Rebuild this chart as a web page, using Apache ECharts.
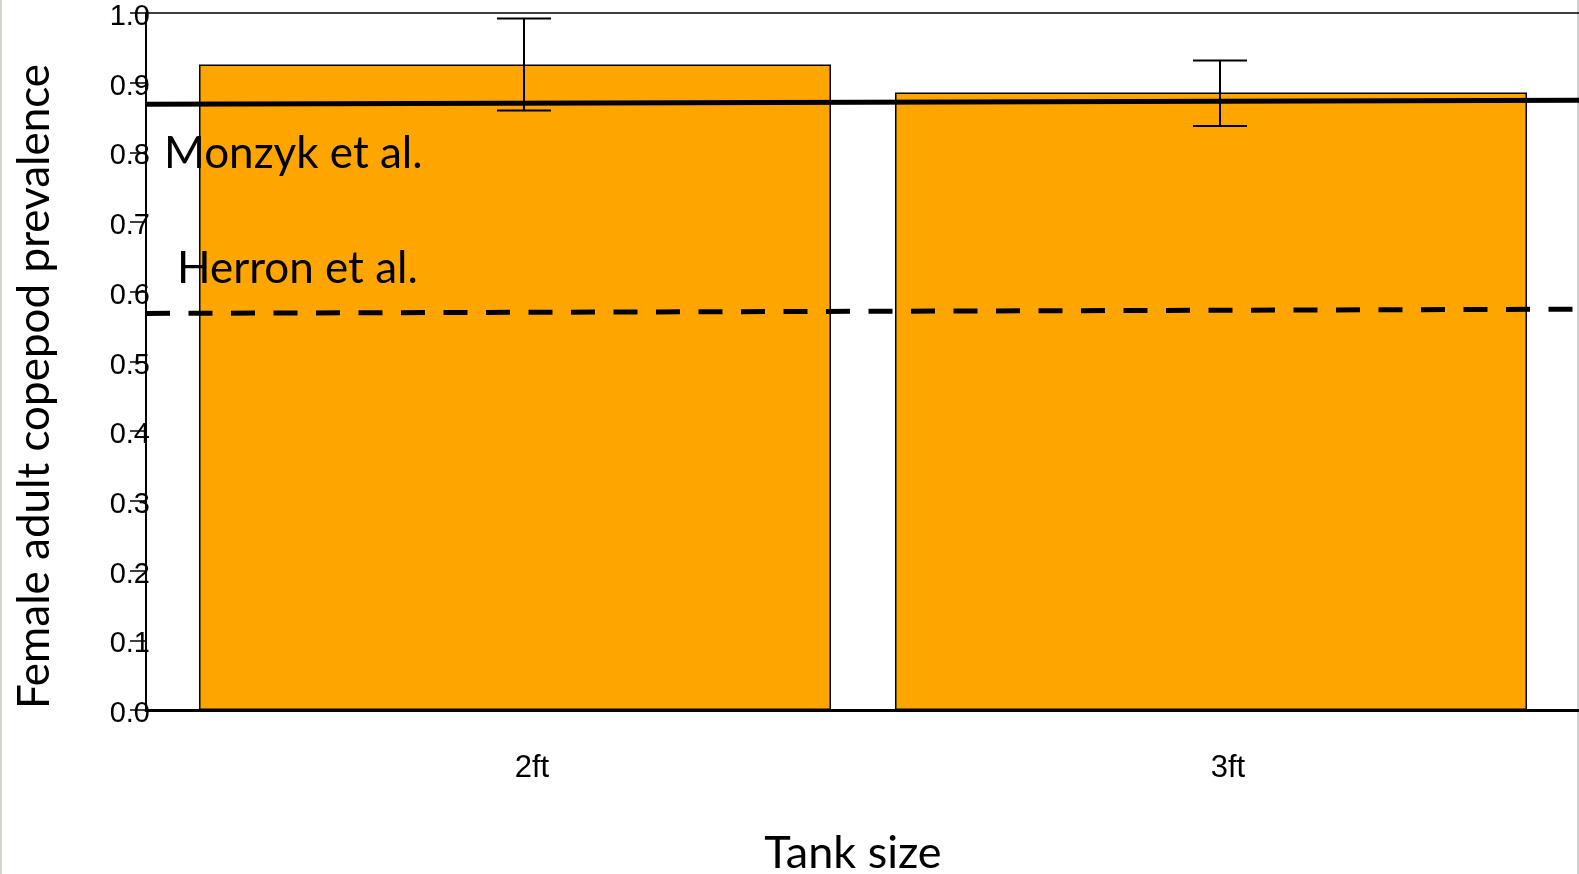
<!DOCTYPE html>
<html>
<head>
<meta charset="utf-8">
<script src="https://cdn.jsdelivr.net/npm/echarts@6/dist/echarts.min.js"></script>
<style>
html,body{margin:0;padding:0;background:#fff;}
#chart{width:1579px;height:874px;}
</style>
</head>
<body>
<div id="chart"></div>
<script>
// ---- data ----
const categories = ['2ft', '3ft'];
const prevalence = [0.926, 0.886];
const errLower = [0.860, 0.838];
const errUpper = [0.992, 0.932];
const refX = [0, 1];
const monzykLine = [0.869, 0.875];
const herronLine = [0.569, 0.575];

const chart = echarts.init(document.getElementById('chart'));

const errData = categories.map((c, i) => [i, errLower[i], errUpper[i]]);

const option = {
  animation: false,
  backgroundColor: '#fff',
  grid: [
    { left: 167, right: 20, top: 13, bottom: 164, outerBoundsMode: 'none', containLabel: false },
    { left: 146, right: 0, top: 13, bottom: 164, outerBoundsMode: 'none', containLabel: false }
  ],
  xAxis: [
    {
      type: 'category', gridIndex: 0, data: categories,
      axisLine: { show: false }, axisTick: { show: false },
      axisLabel: { margin: 43, fontFamily: 'Liberation Sans', fontSize: 31, color: '#000', padding: [0, 0, 0, 34] }
    },
    {
      type: 'value', gridIndex: 1, min: 0, max: 1, position: 'bottom',
      axisLine: { show: true, onZero: false, lineStyle: { color: '#000', width: 3 } },
      axisTick: { show: false }, axisLabel: { show: false }, splitLine: { show: false }
    },
    {
      type: 'value', gridIndex: 1, min: 0, max: 1, position: 'top',
      axisLine: { show: true, onZero: false, lineStyle: { color: '#000', width: 1.5 } },
      axisTick: { show: false }, axisLabel: { show: false }, splitLine: { show: false }
    }
  ],
  yAxis: [
    {
      type: 'value', gridIndex: 0, min: 0, max: 1, interval: 0.1, show: false
    },
    {
      type: 'value', gridIndex: 1, min: 0, max: 1, interval: 0.1,
      name: 'Female adult copepod prevalence',
      nameLocation: 'middle', nameGap: 89,
      nameTextStyle: { fontFamily: 'Lato', fontSize: 44, color: '#000', padding: [0, 50, 0, 0] },
      axisLine: { show: true, lineStyle: { color: '#000', width: 2 } },
      axisTick: { show: true, length: 16, lineStyle: { color: '#000', width: 1.5 } },
      axisLabel: { margin: -4, color: '#000',
        formatter: v => '{s|}\n{v|' + v.toFixed(1) + '}',
        rich: {
          s: { lineHeight: 8, fontSize: 8 },
          v: { fontFamily: 'Liberation Sans', fontSize: 29, lineHeight: 30, color: '#000' }
        }
      },
      splitLine: { show: false }
    }
  ],
  series: [
    {
      type: 'bar', xAxisIndex: 0, yAxisIndex: 0, data: prevalence,
      barWidth: 632,
      itemStyle: { color: '#FFA500', borderColor: '#000', borderWidth: 1.5 },
      z: 2
    },
    {
      type: 'custom', xAxisIndex: 0, yAxisIndex: 0, data: errData, z: 3,
      renderItem: function (params, api) {
        const x = api.coord([api.value(0), 0])[0] + 9;
        const lo = api.coord([api.value(0), api.value(1)])[1];
        const hi = api.coord([api.value(0), api.value(2)])[1];
        const hw = 27;
        const st = { stroke: '#000', lineWidth: 2 };
        return { type: 'group', children: [
          { type: 'line', shape: { x1: x, y1: lo, x2: x, y2: hi }, style: st },
          { type: 'line', shape: { x1: x - hw, y1: hi, x2: x + hw, y2: hi }, style: st },
          { type: 'line', shape: { x1: x - hw, y1: lo, x2: x + hw, y2: lo }, style: st }
        ]};
      }
    },
    {
      type: 'line', xAxisIndex: 1, yAxisIndex: 1, z: 4,
      data: refX.map((x, i) => [x, monzykLine[i]]),
      symbol: 'none', lineStyle: { color: '#000', width: 5 }
    },
    {
      type: 'line', xAxisIndex: 1, yAxisIndex: 1, z: 4,
      data: refX.map((x, i) => [x, herronLine[i]]),
      symbol: 'none', lineStyle: { color: '#000', width: 5, type: [24, 18.5] }
    }
  ],
  graphic: [
    { type: 'text', z: 10,
      style: { text: 'Monzyk et al.', font: '44px Lato', fill: '#000', x: 164, y: 132, verticalAlign: 'top' } },
    { type: 'text', z: 10,
      style: { text: 'Herron et al.', font: '44px Lato', fill: '#000', x: 177, y: 247, verticalAlign: 'top' } },
    { type: 'text', z: 10,
      style: { text: 'Tank size', font: '45px Lato', fill: '#000', x: 853, y: 831, align: 'center', verticalAlign: 'top' } },
    { type: 'rect', shape: { x: 0, y: 0, width: 2, height: 874 }, style: { fill: '#d6d2cc' } },
    { type: 'rect', shape: { x: 1577, y: 0, width: 2, height: 874 }, style: { fill: '#d0d0d0' } }
  ]
};
chart.setOption(option);
</script>
</body>
</html>
